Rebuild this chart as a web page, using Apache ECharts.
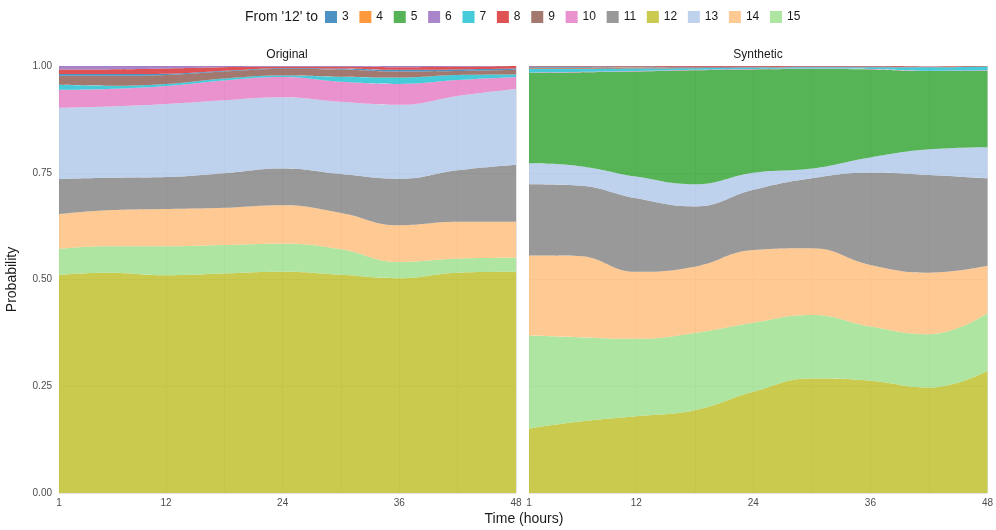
<!DOCTYPE html>
<html><head><meta charset="utf-8">
<script src="https://cdn.jsdelivr.net/npm/echarts@6/dist/echarts.min.js"></script>
<style>html,body{margin:0;padding:0;background:#fff}#c{width:996px;height:530px}</style>
</head><body><div id="c"></div>
<script>
// Hours sampled
const hours = [1, 6, 12, 18, 24, 30, 36, 42, 48];
const allHours = Array.from({ length: 48 }, (_, i) => String(i + 1));
const xTickLabels = ['1', '12', '24', '36', '48'];
const xGridValues = ['1', '12', '18', '24', '30', '36', '42', '48'];
const legendKeys = ['3','4','5','6','7','8','9','10','11','12','13','14','15'];
// stacking order, bottom to top
const stackOrder = ['12','15','14','11','13','5','10','7','9','4','3','8','6'];
const panelNames = ['Original', 'Synthetic'];

// Original panel
const orig12 = [0.511,0.516,0.510,0.514,0.518,0.511,0.503,0.516,0.518];
const orig15 = [0.061,0.062,0.068,0.067,0.066,0.060,0.038,0.033,0.033];
const orig14 = [0.081,0.084,0.087,0.087,0.090,0.085,0.086,0.086,0.084];
const orig11 = [0.082,0.076,0.075,0.081,0.086,0.091,0.109,0.121,0.134];
const orig13 = [0.167,0.167,0.171,0.171,0.167,0.169,0.173,0.174,0.177];
const orig5  = [0,0,0,0,0,0,0,0,0];
const orig10 = [0.042,0.041,0.042,0.046,0.047,0.047,0.049,0.037,0.028];
const orig7  = [0.012,0.008,0.005,0.005,0.004,0.012,0.015,0.012,0.006];
const orig9  = [0.021,0.023,0.021,0.016,0.015,0.017,0.014,0.009,0.011];
const orig4  = [0,0,0,0,0,0,0,0,0];
const orig3  = [0.004,0.004,0.003,0.002,0.002,0.002,0.004,0.004,0.003];
const orig8  = [0.011,0.011,0.012,0.008,0.003,0.004,0.006,0.006,0.006];
const orig6  = [0.008,0.008,0.006,0.003,0.002,0.002,0.003,0.002,0.001];

// Synthetic panel
const syn12 = [0.151,0.167,0.180,0.194,0.237,0.268,0.263,0.247,0.286];
const syn15 = [0.218,0.198,0.181,0.181,0.162,0.149,0.127,0.125,0.135];
const syn14 = [0.187,0.190,0.157,0.155,0.170,0.156,0.144,0.144,0.111];
const syn11 = [0.167,0.165,0.172,0.141,0.141,0.164,0.216,0.229,0.205];
const syn13 = [0.049,0.046,0.051,0.052,0.040,0.023,0.036,0.060,0.073];
const syn5  = [0.212,0.219,0.246,0.267,0.242,0.233,0.206,0.183,0.179];
const syn10 = [0.001,0.001,0.001,0.001,0.001,0.001,0.001,0.001,0.001];
const syn7  = [0.008,0.007,0.006,0.004,0.003,0.003,0.004,0.008,0.009];
const syn9  = [0.002,0.002,0.002,0.002,0.001,0.001,0.001,0.001,0.001];
const syn4  = [0.001,0.001,0.001,0,0,0,0,0,0];
const syn3  = [0.003,0.003,0.002,0.001,0.001,0.001,0.001,0,0];
const syn8  = [0.001,0.001,0.001,0.002,0.003,0.002,0.002,0.001,0.001];
const syn6  = [0,0,0,0,0,0,0,0,0];

const origData = {'3':orig3,'4':orig4,'5':orig5,'6':orig6,'7':orig7,'8':orig8,'9':orig9,'10':orig10,'11':orig11,'12':orig12,'13':orig13,'14':orig14,'15':orig15};
const synData  = {'3':syn3,'4':syn4,'5':syn5,'6':syn6,'7':syn7,'8':syn8,'9':syn9,'10':syn10,'11':syn11,'12':syn12,'13':syn13,'14':syn14,'15':syn15};

const colors = {
  '3':'rgba(31,119,180,0.8)', '4':'rgba(255,127,14,0.8)', '5':'rgba(44,160,44,0.8)',
  '6':'rgba(148,103,189,0.8)', '7':'rgba(23,190,207,0.8)', '8':'rgba(214,39,40,0.8)',
  '9':'rgba(140,86,75,0.8)', '10':'rgba(227,119,194,0.8)', '11':'rgba(127,127,127,0.8)',
  '12':'rgba(188,189,34,0.8)', '13':'rgba(174,199,232,0.8)', '14':'rgba(255,187,120,0.8)',
  '15':'rgba(152,223,138,0.8)'
};

const FONT = "'Liberation Sans', Arial, Helvetica, sans-serif";

const series = [];
[origData, synData].forEach((ds, p) => {
  stackOrder.forEach(k => {
    series.push({
      type: 'line', name: k, xAxisIndex: p, yAxisIndex: p, stack: 'p' + p,
      data: hours.map((h, i) => [String(h), ds[k][i]]),
      smooth: 0.45, symbol: 'none', showSymbol: false,
      lineStyle: { width: 0 },
      itemStyle: { color: colors[k] },
      areaStyle: { color: colors[k], opacity: 1 },
      emphasis: { disabled: true },
      animation: false
    });
  });
});

const grids = [
  { left: 59, right: 480, top: 66, bottom: 37 },
  { left: 529, right: 8, top: 66, bottom: 37 }
];

const xAxes = [0, 1].map(p => ({
  type: 'category', gridIndex: p, data: allHours, boundaryGap: false,
  axisLine: { show: false }, axisTick: { show: false },
  axisLabel: { interval: (i, v) => xTickLabels.includes(v), color: '#4d4d4d', fontSize: 10, fontFamily: FONT, margin: 5 },
  splitLine: { show: true, interval: (i, v) => xGridValues.includes(v), lineStyle: { color: '#e4e4e4', width: 1 } }
}));

const yAxes = [0, 1].map(p => ({
  type: 'value', gridIndex: p, min: 0, max: 1, interval: 0.25,
  axisLine: { show: false }, axisTick: { show: false },
  axisLabel: { show: p === 0, color: '#4d4d4d', fontSize: 10, fontFamily: FONT, margin: 7,
    formatter: v => v.toFixed(2) },
  splitLine: { show: true, lineStyle: { color: '#e4e4e4', width: 1 } },
  name: p === 0 ? 'Probability' : '', nameLocation: 'middle', nameGap: 40,
  nameTextStyle: { color: '#1a1a1a', fontSize: 14, fontFamily: FONT }
}));

const chart = echarts.init(document.getElementById('c'), null, { renderer: 'canvas' });
chart.setOption({
  animation: false,
  backgroundColor: '#ffffff',
  grid: grids,
  xAxis: xAxes,
  yAxis: yAxes,
  legend: {
    data: legendKeys, left: 320, top: 6, icon: 'rect', itemWidth: 12, itemHeight: 12,
    itemGap: 10.7, selectedMode: false,
    textStyle: { color: '#1a1a1a', fontSize: 12, fontFamily: FONT }
  },
  graphic: [
    { type: 'text', left: 245, top: 10, style: { text: "From '12' to", fill: '#1a1a1a', font: '14px ' + FONT } },
    { type: 'text', x: 287, y: 55, style: { text: panelNames[0], fill: '#1a1a1a', font: '12px ' + FONT, align: 'center', verticalAlign: 'middle' } },
    { type: 'text', x: 758, y: 55, style: { text: panelNames[1], fill: '#1a1a1a', font: '12px ' + FONT, align: 'center', verticalAlign: 'middle' } },
    { type: 'text', x: 524, y: 519, style: { text: 'Time (hours)', fill: '#1a1a1a', font: '14px ' + FONT, align: 'center', verticalAlign: 'middle' } }
  ],
  series: series
});
</script>
</body></html>
